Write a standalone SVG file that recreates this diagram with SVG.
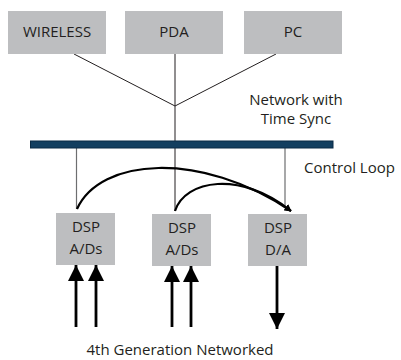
<svg xmlns="http://www.w3.org/2000/svg" width="401" height="360" viewBox="0 0 401 360">
<defs>
<style>
.box{fill:#bdbec0}
.t{font-family:"Open Sans","Liberation Sans",sans-serif;font-size:15px;fill:#231f20}
.m{text-anchor:middle}
.thin{stroke:#231f20;stroke-width:1;fill:none}
.gray{stroke:#6d6e70;stroke-width:1.2;fill:none}
.curve{stroke:#000;stroke-width:2.2;fill:none}
.arr{stroke:#000;stroke-width:2.8;fill:none}
</style>
<marker id="ah" viewBox="0 0 10 10" refX="9" refY="5" markerWidth="7" markerHeight="7" markerUnits="userSpaceOnUse" orient="auto">
<path d="M0,0 L10,5 L0,10 z" fill="#000"/>
</marker>
<marker id="big" viewBox="0 0 10 10" refX="10" refY="5" markerWidth="16" markerHeight="18" markerUnits="userSpaceOnUse" orient="auto">
<path d="M0,0 L10,5 L0,10 z" fill="#000"/>
</marker>
</defs>
<rect width="401" height="360" fill="#fff"/>
<g id="connectors">
<line class="thin" x1="74" y1="54" x2="175" y2="106"/>
<line class="thin" x1="276" y1="54" x2="175" y2="106"/>
<line class="thin" x1="175" y1="54" x2="175" y2="211"/>
<line class="gray" x1="76.5" y1="148" x2="76.5" y2="209"/>
<line class="gray" x1="285" y1="148" x2="285" y2="208"/>
<path class="curve" d="M77,209 C100,158 200,150 291,211" marker-end="url(#ah)"/>
<path class="curve" d="M175,211 C185,180 240,170 291,211" marker-end="url(#ah)"/>
<line class="arr" x1="76" y1="327" x2="76" y2="265" marker-end="url(#big)"/>
<line class="arr" x1="96" y1="327" x2="96" y2="265" marker-end="url(#big)"/>
<line class="arr" x1="172" y1="327" x2="172" y2="266" marker-end="url(#big)"/>
<line class="arr" x1="191" y1="327" x2="191" y2="266" marker-end="url(#big)"/>
<line class="arr" x1="277" y1="266" x2="277" y2="329" marker-end="url(#big)"/>
</g>
<g id="wireless"><rect class="box" x="8" y="11" width="98" height="43"/><text class="t m" x="57" y="37">WIRELESS</text></g>
<g id="pda"><rect class="box" x="125" y="11" width="98" height="43"/><text class="t m" x="174" y="37">PDA</text></g>
<g id="pc"><rect class="box" x="244" y="11" width="98" height="43"/><text class="t m" x="293" y="37">PC</text></g>
<g id="network-label"><text class="t m" x="296" y="105">Network with</text><text class="t m" x="296" y="124">Time Sync</text></g>
<g id="bus"><rect x="30.5" y="141" width="302.5" height="7" fill="#133f60" stroke="#0a2a44" stroke-width="1"/></g>
<g id="control-loop-label"><text class="t" x="304" y="173">Control Loop</text></g>
<g id="dsp1"><rect class="box" x="56" y="213" width="59" height="52"/><text class="t m" x="86" y="232">DSP</text><text class="t m" x="86" y="254">A/Ds</text></g>
<g id="dsp2"><rect class="box" x="152" y="214" width="59" height="52"/><text class="t m" x="182" y="233">DSP</text><text class="t m" x="182" y="255">A/Ds</text></g>
<g id="dsp3"><rect class="box" x="248" y="214" width="59" height="52"/><text class="t m" x="278" y="233">DSP</text><text class="t m" x="278" y="255">D/A</text></g>
<g id="caption"><text class="t m" x="180" y="355">4th Generation Networked</text></g>
</svg>
